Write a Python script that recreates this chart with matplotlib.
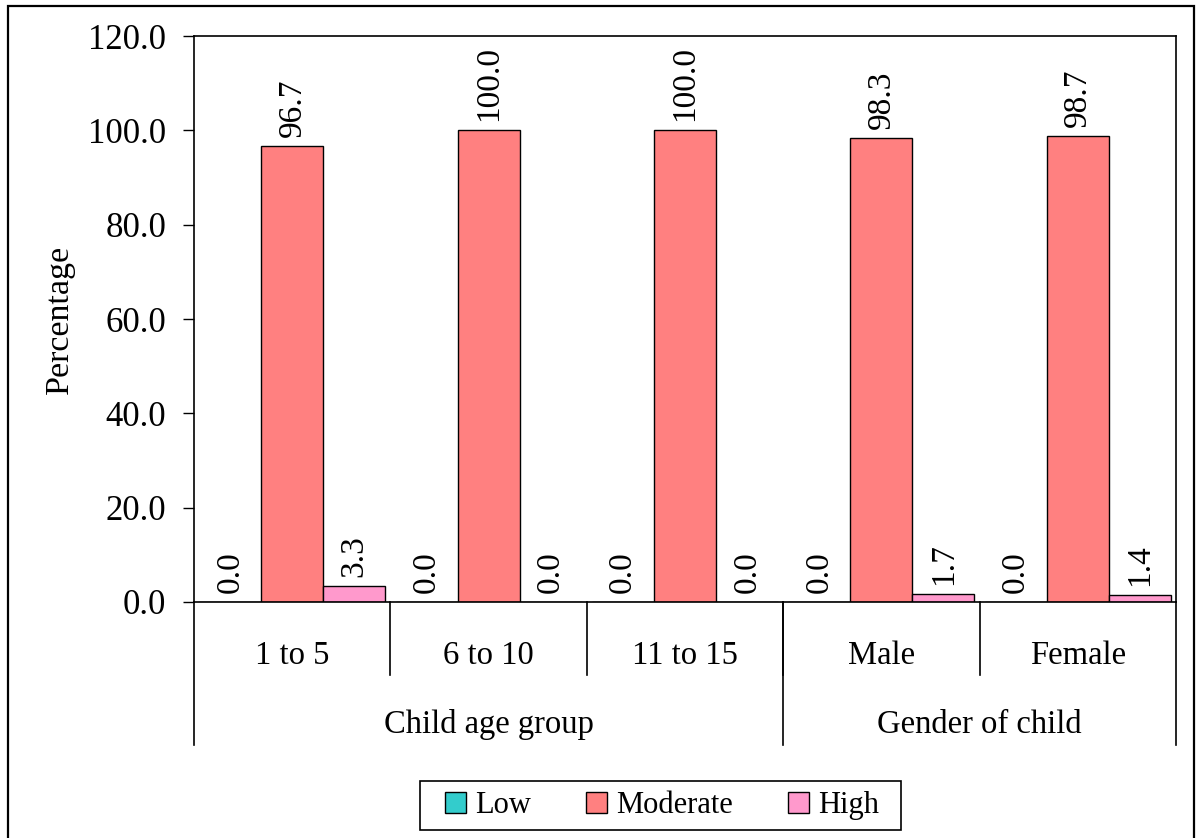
import numpy as np
import matplotlib; matplotlib.use('Agg')
import matplotlib.pyplot as plt
import matplotlib.transforms as mtransforms
from matplotlib.patches import Rectangle

plt.rcParams['font.family'] = ['Liberation Serif', 'DejaVu Serif']

# ---------------------------------------------------------------------------
# Data
# ---------------------------------------------------------------------------
categories = ['1 to 5', '6 to 10', '11 to 15', 'Male', 'Female']
groups = ['Child age group', 'Gender of child']
group_sizes = [3, 2]
series = ['Low', 'Moderate', 'High']
low = [0.0, 0.0, 0.0, 0.0, 0.0]
moderate = [96.7, 100.0, 100.0, 98.3, 98.7]
high = [3.3, 0.0, 0.0, 1.7, 1.4]
colors = ['#33CCCC', '#FF8080', '#FF99CC']

W, H = 1196, 838
fig = plt.figure(figsize=(W / 100, H / 100), dpi=100)
ax = fig.add_axes([194 / W, (H - 602) / H, 982 / W, 566 / H])

x = np.arange(len(categories))
bw = 0.316

for i, (name, vals, c) in enumerate(zip(series, [low, moderate, high], colors)):
    pos = x + (i - 1) * bw
    ax.bar(pos, vals, bw, color=c, edgecolor='black', linewidth=1.0, label=name)
    for px, v in zip(pos, vals):
        ax.annotate(f'{v:.1f}', (px, v), xytext=(0, 6.5), textcoords='offset points',
                    rotation=90, ha='center', va='bottom', fontsize=24)

ax.set_xlim(-0.5, len(categories) - 0.5)
ax.set_ylim(0, 120)
ax.set_yticks(np.arange(0, 121, 20))
ax.set_yticklabels([f'{t:.1f}' for t in np.arange(0, 121, 20)])
ax.tick_params(axis='y', direction='out', length=8, width=1.0, pad=12, labelsize=25)
ax.set_xticks([])
for s in ax.spines.values():
    s.set_linewidth(1.2)

ax.set_ylabel('Percentage', fontsize=24.5)
ax.yaxis.set_label_coords(-0.121, 0.5)

# multi-level category axis below the plot
tr = mtransforms.blended_transform_factory(ax.transData, ax.transAxes)
y_inner, y_outer = -0.129, -0.2527
for b in np.arange(0.5, len(categories) - 1, 1.0):
    ax.plot([b, b], [0, y_inner], color='black', lw=1.2, transform=tr, clip_on=False)
edges = np.concatenate([[0], np.cumsum(group_sizes)]) - 0.5
for b in edges:
    ax.plot([b, b], [0, y_outer], color='black', lw=1.2, transform=tr, clip_on=False)
for xi, lab in zip(x, categories):
    ax.text(xi, -0.0954, lab, transform=tr, ha='center', va='center', fontsize=23.5)
for g, (a, b) in zip(groups, zip(edges[:-1], edges[1:])):
    ax.text((a + b) / 2, -0.2173, g, transform=tr, ha='center', va='center', fontsize=23.5)

fig.legend(loc='center', bbox_to_anchor=(662 / W, 1 - 805.5 / H), ncol=3,
           fontsize=22, frameon=False, handlelength=0.68, handleheight=0.68,
           handletextpad=0.3, columnspacing=1.8)
# legend box
fig.patches.append(Rectangle((420 / W, 1 - 830 / H), 481 / W, 49 / H,
                             transform=fig.transFigure, fill=False,
                             edgecolor='black', linewidth=1.2))

# chart border
fig.patches.append(Rectangle((8 / W, -0.01), 1186 / W, 1 - 6 / H + 0.01,
                             transform=fig.transFigure, fill=False,
                             edgecolor='black', linewidth=1.6))

fig.savefig('out.png', dpi=100)
